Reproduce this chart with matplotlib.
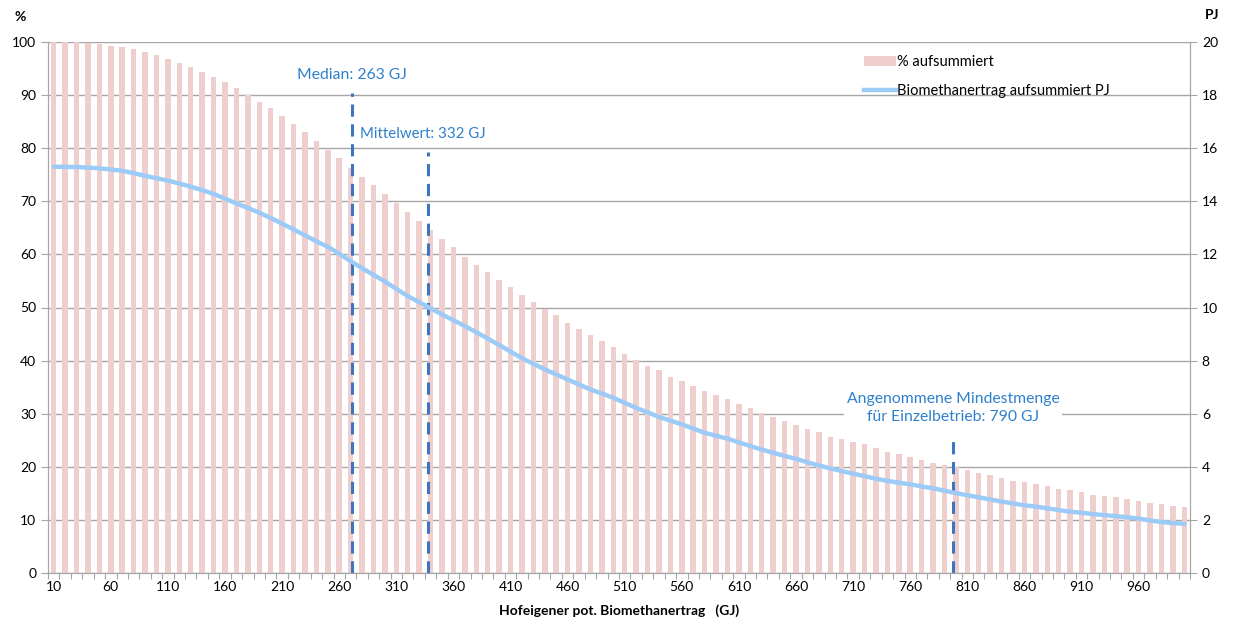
import numpy as np
import matplotlib
matplotlib.use('Agg')
import matplotlib.pyplot as plt
from matplotlib.patches import Patch
from matplotlib.lines import Line2D

plt.rcParams['font.family'] = ['Lato', 'DejaVu Sans']

# Categories: Hofeigener pot. Biomethanertrag (GJ)
categories = list(range(10, 1001, 10))

# % aufsummiert (left axis)
pct_cum = [100, 100, 100, 99.8, 99.6, 99.2, 99.0, 98.7, 98.1, 97.5,
           96.8, 96.1, 95.3, 94.4, 93.4, 92.5, 91.3, 90.0, 88.7, 87.5,
           86.1, 84.5, 83.0, 81.4, 79.7, 78.1, 76.2, 74.6, 73.1, 71.4,
           69.6, 67.9, 66.3, 64.6, 62.9, 61.3, 59.6, 58.0, 56.6, 55.1,
           53.8, 52.4, 51.0, 49.7, 48.5, 47.1, 46.0, 44.8, 43.6, 42.5,
           41.2, 40.1, 39.0, 38.2, 37.0, 36.2, 35.2, 34.3, 33.5, 32.8,
           31.8, 31.0, 30.2, 29.4, 28.6, 27.9, 27.2, 26.5, 25.7, 25.3,
           24.7, 24.2, 23.5, 22.8, 22.4, 21.8, 21.2, 20.8, 20.3, 19.9,
           19.4, 18.9, 18.4, 17.9, 17.4, 17.1, 16.7, 16.4, 15.9, 15.6,
           15.2, 14.7, 14.5, 14.3, 14.0, 13.5, 13.1, 13.0, 12.6, 12.4]

# Biomethanertrag aufsummiert PJ (right axis)
pj_cum = [15.30, 15.30, 15.29, 15.27, 15.24, 15.20, 15.15, 15.06, 14.96, 14.87,
          14.78, 14.67, 14.55, 14.42, 14.28, 14.10, 13.92, 13.75, 13.57, 13.37,
          13.16, 12.94, 12.72, 12.49, 12.29, 12.02, 11.75, 11.48, 11.23, 10.98,
          10.70, 10.43, 10.20, 9.97, 9.74, 9.52, 9.30, 9.07, 8.83, 8.59,
          8.34, 8.09, 7.88, 7.67, 7.48, 7.29, 7.10, 6.91, 6.76, 6.60,
          6.41, 6.22, 6.05, 5.88, 5.74, 5.60, 5.44, 5.28, 5.17, 5.06,
          4.92, 4.78, 4.65, 4.53, 4.41, 4.30, 4.17, 4.05, 3.94, 3.84,
          3.74, 3.65, 3.55, 3.47, 3.40, 3.34, 3.26, 3.19, 3.10, 3.01,
          2.93, 2.85, 2.77, 2.69, 2.62, 2.55, 2.50, 2.44, 2.37, 2.31,
          2.27, 2.22, 2.18, 2.14, 2.10, 2.05, 1.98, 1.92, 1.88, 1.85]

# Reference lines (position on category axis, top in %, label)
ref_pos = [26.12, 32.78, 78.75]
ref_top = [90.4, 79.3, 25.6]
ref_labels = ['Median: 263 GJ', 'Mittelwert: 332 GJ',
              'Angenommene Mindestmenge\nfür Einzelbetrieb: 790 GJ']

bar_color = '#EFCFCD'
line_color = '#9CCBF7'
dash_color = '#3D76BE'
text_color = '#2E80CC'
grid_color = '#A6A6A6'

x = np.arange(len(categories))

fig = plt.figure(figsize=(12.33, 6.26), dpi=100)
ax = fig.add_axes([48 / 1233, 53 / 626, 1142 / 1233, 531 / 626])
ax2 = ax.twinx()

ax.set_axisbelow(True)
ax.bar(x, pct_cum, width=0.48, color=bar_color, zorder=2)
ax.set_xlim(-0.5, len(categories) - 0.5)
ax.set_ylim(0, 100)
ax.set_yticks(np.arange(0, 101, 10))
ax.yaxis.grid(True, color=grid_color, linewidth=1)

# dashed reference lines (under the curve)
for pos, top in zip(ref_pos, ref_top):
    ax2.plot([pos, pos], [0, top / 5], color=dash_color, linewidth=2.2,
             linestyle=(0, (4, 2.5)), zorder=2)

ax2.plot(x, pj_cum, color=line_color, linewidth=3.2, solid_capstyle='round', zorder=3)
ax2.set_ylim(0, 20)
ax2.set_yticks(np.arange(0, 21, 2))

ax2.text(ref_pos[0], 93.8 / 5, ref_labels[0], color=text_color, fontsize=11.3,
         ha='center', va='center')
ax2.text(32.3, 82.7 / 5, ref_labels[1], color=text_color, fontsize=10.8,
         ha='center', va='center')
ax2.text(ref_pos[2], 31.1 / 5, ref_labels[2], color=text_color, fontsize=11.3,
         ha='center', va='center', linespacing=1.35,
         bbox=dict(facecolor='white', edgecolor='none', pad=2))

# x axis: tick marks between categories, labels every 5th category
ax.set_xticks(np.arange(-0.5, len(categories), 1))
ax.set_xticklabels([])
ax.set_xticks(x[::5], [str(c) for c in categories[::5]], minor=True)
ax.tick_params(axis='x', which='major', length=4, color=grid_color)
ax.tick_params(axis='x', which='minor', length=0, labelsize=10, pad=6)

for a in (ax, ax2):
    for s in a.spines.values():
        s.set_color(grid_color)
    a.spines['top'].set_visible(False)
ax.tick_params(axis='y', length=5, color=grid_color, labelsize=10)
ax2.tick_params(axis='y', length=5, color=grid_color, labelsize=10)

ax.set_xlabel('Hofeigener pot. Biomethanertrag   (GJ)', fontsize=10,
              fontweight='bold', labelpad=8)
fig.text(20 / 1233, 1 - 17 / 626, '%', fontsize=10, fontweight='bold',
         ha='center', va='center')
fig.text(1212 / 1233, 1 - 15 / 626, 'PJ', fontsize=10, fontweight='bold',
         ha='center', va='center')

handles = [Patch(facecolor=bar_color, edgecolor='none'),
           Line2D([0], [0], color=line_color, linewidth=3.2)]
ax2.legend(handles, ['% aufsummiert', 'Biomethanertrag aufsummiert PJ'],
           loc='upper left', bbox_to_anchor=(0.703, 1.0), frameon=False,
           fontsize=10.5, handlelength=2.2, handletextpad=0.1, labelspacing=1.0)

fig.savefig('out.png', dpi=100)
